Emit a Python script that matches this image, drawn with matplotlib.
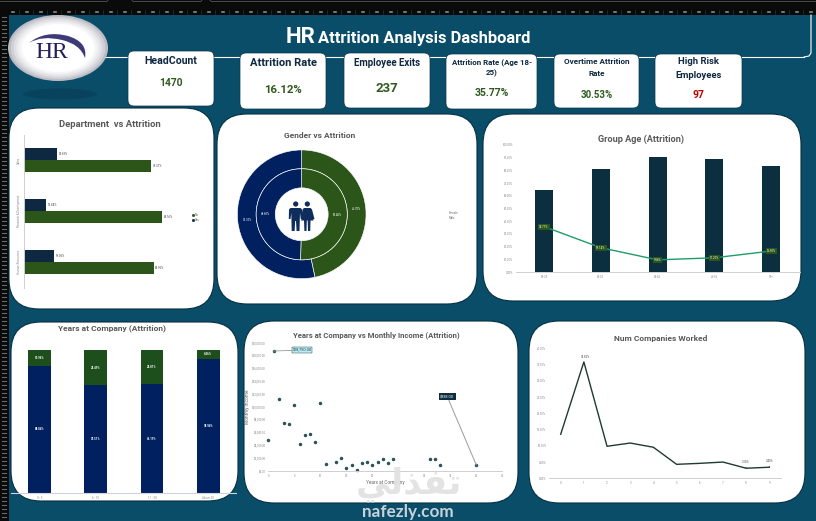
import matplotlib
matplotlib.use("Agg")
import matplotlib.pyplot as plt
from matplotlib.patches import FancyBboxPatch, Ellipse, Circle, Polygon, PathPatch
from matplotlib.path import Path

W, H = 816, 521
TEAL = "#0a4d69"
NAVY = "#002060"
GREEN = "#2b5519"
DARK = "#0c2f40"
GREY_TITLE = "#595959"
TINY = 2.1
FONT = ["Roboto", "DejaVu Sans"]
plt.rcParams["font.family"] = FONT

# data
dept_names = ["Sales", "Research & Development", "Human Resources"]
dept_yes = [20.63, 13.84, 19.05]
dept_no = [79.37, 86.16, 80.95]

gender_names = ["Female", "Male"]
gender_outer = [46.7, 53.3]
gender_inner = [50.4, 49.6]

age_names = ["18-25", "26-35", "36-45", "46-55", "55+"]
age_stay = [64.23, 80.86, 90.44, 88.8, 83.5]
age_attr = [35.77, 19.14, 9.56, 11.2, 16.5]

years_names = ["0 - 5", "6 - 10", "11 - 20", "Above 20"]
years_stay = [89.04, 75.51, 76.19, 93.94]
years_attr = [10.96, 24.49, 23.81, 6.06]

income_years = [0, 1, 2, 3, 4, 5, 6, 7, 8, 9, 10, 11, 13, 14, 15, 16, 17, 18, 19, 20, 21, 22, 23, 24, 31, 32, 33, 40]
income_vals = [4843, 18750, 11250, 7500, 7344, 10313, 4219, 5625, 5781, 4531, 10625, 1094, 1406, 2031,
               469, 938, 156, 1250, 1406, 938, 1406, 1875, 1250, 1875, 1875, 1875, 938, 938]

companies = list(range(10))
companies_pct = [13.55, 35.8, 9.85, 10.85, 9.55, 4.3, 4.6, 5.0, 3.1, 3.4]

# x0, y0, x1, y1, title lines, title y, title size, value, value y, value colour, value size
cards = [
    (128, 51, 214, 106, ["HeadCount"], [61], 7.6, "1470", 83, "#2f5a1e", 7.4),
    (240, 53, 326, 109, ["Attrition Rate"], [63], 8, "16.12%", 90, "#2f5a1e", 8.2),
    (344, 53, 430, 108, ["Employee Exits"], [63], 6.9, "237", 89, "#2f5a1e", 9.5),
    (446, 54, 537, 109, ["Attrition Rate (Age 18-", "25)"], [62, 73], 5.7, "35.77%", 93, "#2f5a1e", 7.5),
    (554, 54, 639, 108, ["Overtime Attrition", "Rate"], [62, 73], 5.9, "30.53%", 95, "#2f5a1e", 6.9),
    (655, 54, 742, 108, ["High Risk", "Employees"], [62, 75], 6.8, "97", 95, "#c00000", 7.5),
]

fig = plt.figure(figsize=(W / 100, H / 100), dpi=100, facecolor="#0a0a0a")

bg = fig.add_axes([0, 0, 1, 1], zorder=0)
bg.set_xlim(0, W)
bg.set_ylim(H, 0)
bg.axis("off")


def box(ax, x0, y0, x1, y1, r, fc, ec="none", lw=0, z=2):
    p = FancyBboxPatch((x0, y0), x1 - x0, y1 - y0, boxstyle=f"round,pad=0,rounding_size={r}",
                       fc=fc, ec=ec, lw=lw, zorder=z)
    ax.add_patch(p)


def chart_axes(l, t, r, b):
    ax = fig.add_axes([l / W, 1 - b / H, (r - l) / W, (b - t) / H], zorder=2)
    ax.patch.set_alpha(0)
    for s in ax.spines.values():
        s.set_visible(False)
    ax.tick_params(length=0, labelsize=TINY, labelcolor="#8a8a8a", pad=2)
    return ax


# window frame: tabs and rulers
bg.add_patch(plt.Rectangle((8.5, 15), W, H, fc=TEAL, ec="none", zorder=1))
for a, b in [(-2, 108), (132, 202), (210, 820)]:
    box(bg, a, -6, b, 1.5, 2, "#0a0a0a", "#555555", 0.6, 1)
for x in range(12, W, 14):
    bg.plot([x, x + 2], [12, 12], color="#8a8a8a", lw=1.2, zorder=1)
    bg.plot([x + 7, x + 7], [10, 14], color="#3a3a3a", lw=0.4, zorder=1)
for y in range(17, H, 4):
    bg.plot([1.5, 6], [y, y], color="#6a6a6a", lw=0.8, zorder=1)

# header outline
bg.plot([70, 804], [57, 57], color="white", lw=0.8, zorder=2)
bg.plot([804, 809, 811, 811], [57, 56, 53, 15], color="white", lw=0.8, zorder=2)

# logo
bg.add_patch(Ellipse((60, 94), 74, 11, fc="#09425c", ec="none", zorder=2))
for k, c in enumerate(["#bcbcc4", "#cfcfd6", "#dedee3", "#ececef", "#f6f6f8", "#ffffff"]):
    f = 1 - k * 0.055
    bg.add_patch(Ellipse((58, 48), 100 * f, 66 * f, fc=c, ec="none", zorder=3))
bg.add_patch(PathPatch(Path([(29, 43), (45, 30), (68, 36), (88, 42), (85, 58), (80, 44), (62, 40), (42, 35), (29, 43)],
                            [Path.MOVETO, Path.CURVE3, Path.CURVE3, Path.CURVE3, Path.CURVE3,
                             Path.CURVE3, Path.CURVE3, Path.CURVE3, Path.CURVE3]),
                       fc="#3d3a78", ec="none", zorder=4))
bg.text(52, 52, "HR", family="Liberation Serif", fontsize=17, color="#231f5c", ha="center", va="center", zorder=5)

# title
bg.text(286, 37, "HR", color="white", fontsize=16, fontweight="bold", ha="left", va="center", zorder=3)
bg.text(318, 38, "Attrition Analysis Dashboard", color="white", fontsize=11.9, fontweight="bold",
        ha="left", va="center", zorder=3)

# KPI cards
for x0, y0, x1, y1, lines, ys, ts, value, vy, vc, vs in cards:
    box(bg, x0, y0, x1, y1, 6, "white", "#0a3347", 0.5, 3)
    cx = (x0 + x1) / 2
    for line, ly in zip(lines, ys):
        bg.text(cx, ly, line, color="#0e2841", fontsize=ts, fontweight="bold", ha="center", va="center", zorder=4)
    bg.text(cx, vy, value, color=vc, fontsize=vs, fontweight="bold", ha="center", va="center", zorder=4)

# chart panels
panels = [(9, 108, 214, 309), (217, 114, 477, 304), (483, 114, 801, 301),
          (11, 322, 238, 501), (244, 321, 518, 503), (529, 321, 805, 503)]
for x0, y0, x1, y1 in panels:
    box(bg, x0, y0, x1, y1, 30, "white", "#062f42", 0.8, 2)

bg.text(110, 124.5, "Department  vs Attrition", color=GREY_TITLE, fontsize=6.8, fontweight="bold", ha="center", va="center", zorder=3)
bg.text(320, 136, "Gender vs Attrition", color=GREY_TITLE, fontsize=6, fontweight="bold", ha="center", va="center", zorder=3)
bg.text(641, 139, "Group Age (Attrition)", color=GREY_TITLE, fontsize=6.6, fontweight="bold", ha="center", va="center", zorder=3)
bg.text(112, 328, "Years at Company (Attrition)", color=GREY_TITLE, fontsize=6, fontweight="bold", ha="center", va="center", zorder=3)
bg.text(376, 335.5, "Years at Company vs Monthly Income (Attrition)", color=GREY_TITLE, fontsize=5.6, fontweight="bold", ha="center", va="center", zorder=3)
bg.text(661, 339, "Num Companies Worked", color=GREY_TITLE, fontsize=6, fontweight="bold", ha="center", va="center", zorder=3)

# department
ax = chart_axes(24, 134.5, 184, 287.5)
pos = [0.5, 1.5, 2.5]
h = 12 / 51
ax.barh([p - h / 2 for p in pos], dept_yes, height=h, color="#0e2841")
ax.barh([p + h / 2 for p in pos], dept_no, height=h, color=GREEN)
for p, a, b in zip(pos, dept_yes, dept_no):
    ax.text(a + 1, p - h / 2, f"{a:.2f}%", fontsize=TINY, color="#444444", va="center")
    ax.text(b + 1, p + h / 2, f"{b:.2f}%", fontsize=TINY, color="#444444", va="center")
ax.set_xlim(0, 100)
ax.set_ylim(3, 0)
ax.set_xticks([])
ax.set_yticks(pos, dept_names, rotation=90, va="center")
ax.spines["left"].set_visible(True)
ax.spines["left"].set_color("#cfcfcf")
ax.spines["left"].set_linewidth(0.7)
bg.plot([193], [215], marker="s", ms=1, color=GREEN, zorder=3)
bg.plot([193], [220], marker="s", ms=1, color="#0e2841", zorder=3)
bg.text(195, 215, "No", fontsize=TINY, color="#555555", va="center", zorder=3)
bg.text(195, 220, "Yes", fontsize=TINY, color="#555555", va="center", zorder=3)

# gender donut
ax = chart_axes(301.7 - 65, 214.3 - 65, 301.7 + 65, 214.3 + 65)
ring = dict(startangle=90, counterclock=False, colors=[GREEN, NAVY], autopct="%.2f%%")
_, _, t1 = ax.pie(gender_outer, radius=1, pctdistance=0.85,
                  wedgeprops=dict(width=19 / 65, edgecolor="white", linewidth=0.45), **ring)
_, _, t2 = ax.pie(gender_inner, radius=46 / 65, pctdistance=0.79,
                  wedgeprops=dict(width=19.3 / 65, edgecolor="white", linewidth=0.45), **ring)
for t in t1 + t2:
    t.set_fontsize(TINY)
    t.set_color("white")
ax.set_xlim(-1.01, 1.01)
ax.set_ylim(-1.01, 1.01)
bg.text(449, 213, gender_names[0], fontsize=TINY, color="#777777", va="center", zorder=3)
bg.text(449, 218, gender_names[1], fontsize=TINY, color="#777777", va="center", zorder=3)

# group age
ax = chart_axes(515.6, 145, 799.6, 272)
ax.bar(range(5), age_stay, width=0.317, color=DARK)
ax.plot(range(5), age_attr, color="#1f9d68", lw=1)
for i, v in enumerate(age_attr):
    ax.text(i, v, f"{v:.2f}%", fontsize=TINY, color="white", ha="center", va="center",
            bbox=dict(boxstyle="square,pad=0.35", fc=GREEN, ec="none"))
ax.set_xlim(-0.5, 4.5)
ax.set_ylim(0, 100)
ax.set_xticks(range(5), age_names)
ax.set_yticks(range(0, 101, 10), [f"{v:.2f}%" for v in range(0, 101, 10)])
ax.spines["bottom"].set_visible(True)
ax.spines["bottom"].set_color("#cfcfcf")
ax.spines["bottom"].set_linewidth(0.7)

# years at company
ax = chart_axes(11.2, 350, 236.4, 493)
ax.bar(range(4), years_stay, width=0.4, color=NAVY)
ax.bar(range(4), years_attr, width=0.4, bottom=years_stay, color="#1d4f1d")
for i, (a, b) in enumerate(zip(years_stay, years_attr)):
    ax.text(i, a / 2, f"{a:.2f}%", fontsize=TINY, color="white", fontweight="bold", ha="center", va="center")
    ax.text(i, a + b / 2, f"{b:.2f}%", fontsize=TINY, color="white", fontweight="bold", ha="center", va="center")
ax.set_xlim(-0.5, 3.5)
ax.set_ylim(0, 100)
ax.set_xticks(range(4), years_names)
ax.set_yticks([])
ax.spines["bottom"].set_visible(True)
ax.spines["bottom"].set_color("#cfd3dc")
ax.spines["bottom"].set_linewidth(0.8)

# scatter
ax = chart_axes(268.3, 343, 502.3, 471)
ax.plot(income_years, income_vals, ls="none", marker="o", ms=1.5, color="#2b5358", clip_on=False)
ax.annotate("$18,750.00", xy=(1, 18750), xytext=(20.5, 0.7), textcoords="offset points", fontsize=2.8,
            color="#12323f", ha="center", va="center",
            bbox=dict(boxstyle="square,pad=0.2", fc="#bfeef2", ec="#12323f", lw=0.3),
            arrowprops=dict(arrowstyle="-", color="#9a9a9a", lw=0.6, shrinkA=0, shrinkB=0))
ax.annotate("$938.00", xy=(40, 938), xytext=(-20.9, 49.2), textcoords="offset points", fontsize=2.8,
            color="white", ha="center", va="center",
            bbox=dict(boxstyle="square,pad=0.4", fc=DARK, ec="none"),
            arrowprops=dict(arrowstyle="-", color="#9a9a9a", lw=0.7, shrinkA=0, shrinkB=0))
ax.set_xlim(0, 45)
ax.set_ylim(0, 20000)
ax.set_xticks(range(0, 46, 5))
ax.set_yticks(range(0, 20001, 2000), [f"${v:,.2f}" for v in range(0, 20001, 2000)])
ax.spines["bottom"].set_visible(True)
ax.spines["bottom"].set_color("#cfcfcf")
ax.spines["bottom"].set_linewidth(0.7)
ax.set_xlabel("Years at Company", fontsize=3.4, color="#666666", labelpad=1.5)
ax.set_ylabel("Monthly Income", fontsize=3.4, color="#666666", labelpad=1)

# num companies
ax = chart_axes(549.1, 348.3, 780.9, 478.3)
ax.plot(companies, companies_pct, color="#1f3a33", lw=1)
ax.annotate(f"{companies_pct[1]:.2f}%", xy=(1, companies_pct[1]), xytext=(1.5, 2.5), textcoords="offset points",
            fontsize=TINY, color="#444444", ha="center")
for i in [8, 9]:
    ax.annotate(f"{companies_pct[i]:.2f}%", xy=(i, companies_pct[i]), xytext=(0, 3.5), textcoords="offset points",
                fontsize=TINY, color="#444444", ha="center",
                arrowprops=dict(arrowstyle="-", color="#1f3a33", lw=0.5, shrinkA=0, shrinkB=0))
ax.set_xlim(-0.5, 9.5)
ax.set_ylim(0, 40)
ax.set_xticks(companies)
ax.set_yticks(range(0, 41, 5), [f"{v:.2f}%" for v in range(0, 41, 5)])
ax.spines["bottom"].set_visible(True)
ax.spines["bottom"].set_color("#cfcfcf")
ax.spines["bottom"].set_linewidth(0.7)

# overlay: people icon and watermark
top = fig.add_axes([0, 0, 1, 1], zorder=5)
top.set_xlim(0, W)
top.set_ylim(H, 0)
top.axis("off")
top.patch.set_alpha(0)
ICON = "#0f2d5c"
top.add_patch(Circle((295.7, 204), 2.6, fc=ICON, ec="none"))
top.add_patch(Polygon([(290.5, 208), (300.5, 208), (302, 209.5), (302.5, 219), (300.8, 219), (300, 213), (299.5, 231),
                       (296.6, 231), (296, 221), (295.2, 221), (294.6, 231), (291.7, 231), (291.3, 213), (290.5, 219),
                       (288.8, 219), (289, 209.5)], fc=ICON, ec="none"))
top.add_patch(Circle((307.3, 204), 2.6, fc=ICON, ec="none"))
top.add_patch(Polygon([(304, 208), (310.6, 208), (312, 209.5), (314.5, 219), (312.8, 219.5), (311, 214), (313.5, 220.5),
                       (310.5, 220.5), (310.2, 231), (308, 231), (307.7, 220.5), (306.8, 220.5), (306.5, 231),
                       (304.4, 231), (304, 220.5), (301, 220.5), (303.5, 214), (302.2, 219), (301, 218.5), (302.6, 209.5)],
                      fc=ICON, ec="none"))

# matplotlib has no bidi shaping, so the Arabic is written in visual order with presentation forms
top.text(408.5, 484, "\ufef2\ufedf\ufeac\ufed4\ufe97", family="DejaVu Sans", fontweight="bold", fontsize=25,
         color="#e2e2e2", ha="center", va="center", alpha=0.95)
top.text(408, 512.5, "nafezly.com", family=["Lato", "DejaVu Sans"], fontsize=12.3, fontweight="bold",
         color="#c6d3da", ha="center", va="center")

fig.savefig("out.png", dpi=100, facecolor=fig.get_facecolor())
